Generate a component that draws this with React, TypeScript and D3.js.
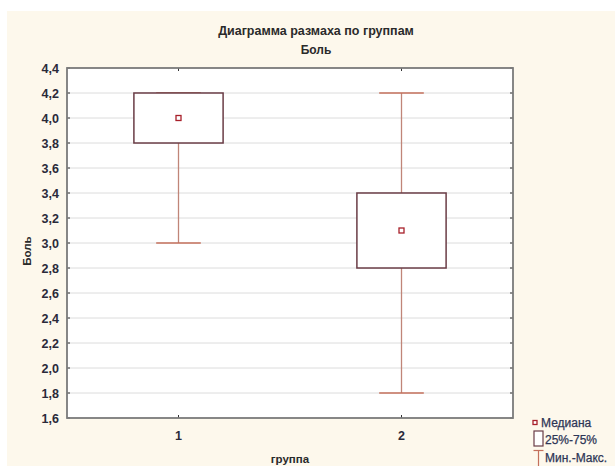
import React from "react";
import * as d3 from "d3";

const groups = ["1", "2"];
const mins = [3.0, 1.8];
const q1s = [3.8, 2.8];
const medians = [4.0, 3.1];
const q3s = [4.2, 3.4];
const maxs = [4.2, 4.2];
const yTicks = [1.6, 1.8, 2.0, 2.2, 2.4, 2.6, 2.8, 3.0, 3.2, 3.4, 3.6, 3.8, 4.0, 4.2, 4.4];
const legendLabels = ["Медиана", "25%-75%", "Мин.-Макс."];

const W = 615, H = 466;
const L = 67, R = 513, T = 68, B = 418;
const font = "'Liberation Sans', Arial, sans-serif";

export default function App() {
  const y = d3.scaleLinear().domain([1.6, 4.4]).range([B, T]);
  const x = d3.scaleBand().domain(groups).range([L, R]);
  const bw = x.bandwidth();
  const fmt = (v: number) => v.toFixed(1).replace(".", ",");
  const boxColor = "#6a3c46";
  const whiskColor = "#c08578";
  const capColor = "#c4705c";
  const medColor = "#a8202a";
  const legColor = "#2e3656";
  return (
    <svg width={W} height={H} style={{ position: "absolute", left: 0, top: 0 }}>
      <rect x={0} y={0} width={W} height={H} fill="#ffffff" />
      <rect x={7} y={11} width={W - 7} height={H - 11} fill="#fdf8ec" />
      <text x={316} y={35} textAnchor="middle" fontFamily={font} fontSize={12.5} fontWeight="bold" fill="#2a2a2a">
        Диаграмма размаха по группам
      </text>
      <text x={316} y={54} textAnchor="middle" fontFamily={font} fontSize={12} fontWeight="bold" fill="#2a2a2a">
        Боль
      </text>
      <rect x={L} y={T} width={R - L} height={B - T} fill="#ffffff" />
      {yTicks.slice(1, -1).map((t) => (
        <line key={"g" + t} x1={L} x2={R} y1={y(t)} y2={y(t)} stroke="#dcdcdc" strokeWidth={1} />
      ))}
      {yTicks.map((t) => (
        <g key={"t" + t}>
          <line x1={L} x2={L + 3} y1={y(t)} y2={y(t)} stroke="#333" strokeWidth={1} />
          <line x1={R - 3} x2={R} y1={y(t)} y2={y(t)} stroke="#333" strokeWidth={1} />
          <text x={59} y={y(t) + 4.5} textAnchor="end" fontFamily={font} fontSize={12.5} fontWeight="bold" fill="#2a2a3a">
            {fmt(t)}
          </text>
        </g>
      ))}
      {groups.map((g) => {
        const cx = (x(g) as number) + bw / 2;
        return (
          <g key={"xt" + g}>
            <line x1={cx} x2={cx} y1={B} y2={B - 3} stroke="#333" strokeWidth={1} />
            <line x1={cx} x2={cx} y1={T} y2={T + 3} stroke="#333" strokeWidth={1} />
            <text x={cx} y={440} textAnchor="middle" fontFamily={font} fontSize={12.5} fontWeight="bold" fill="#2a2a3a">
              {g}
            </text>
          </g>
        );
      })}
      {groups.map((g, i) => {
        const cx = (x(g) as number) + bw / 2;
        const boxW = bw * 0.4;
        const capW = bw * 0.2;
        return (
          <g key={"b" + g}>
            <line x1={cx} x2={cx} y1={y(maxs[i])} y2={y(q3s[i])} stroke={whiskColor} strokeWidth={1.3} />
            <line x1={cx} x2={cx} y1={y(q1s[i])} y2={y(mins[i])} stroke={whiskColor} strokeWidth={1.3} />
            <line x1={cx - capW / 2} x2={cx + capW / 2} y1={y(maxs[i])} y2={y(maxs[i])} stroke={capColor} strokeWidth={1.3} />
            <line x1={cx - capW / 2} x2={cx + capW / 2} y1={y(mins[i])} y2={y(mins[i])} stroke={capColor} strokeWidth={1.3} />
            <rect x={cx - boxW / 2} y={y(q3s[i])} width={boxW} height={y(q1s[i]) - y(q3s[i])} fill="#ffffff" stroke={boxColor} strokeWidth={1.5} />
            <rect x={cx - 2.5} y={y(medians[i]) - 2.5} width={5} height={5} fill="#ffffff" stroke={medColor} strokeWidth={1.3} />
          </g>
        );
      })}
      <rect x={L} y={T} width={R - L} height={B - T} fill="none" stroke="#7a7a7a" strokeWidth={1.8} />
      <text x={290} y={463} textAnchor="middle" fontFamily={font} fontSize={11.5} fontWeight="bold" fill="#2a2a2a">
        группа
      </text>
      <text transform={`translate(31,251) rotate(-90)`} textAnchor="middle" fontFamily={font} fontSize={11.5} fontWeight="bold" fill="#2a2a2a">
        Боль
      </text>
      {/* legend */}
      <rect x={533} y={420.5} width={4} height={4} fill="#ffffff" stroke={medColor} strokeWidth={1.3} />
      <text x={541} y={427} fontFamily={font} fontSize={12} fill={legColor} stroke={legColor} strokeWidth={0.25}>{legendLabels[0]}</text>
      <rect x={534} y={431} width={9} height={15} fill="#ffffff" stroke={boxColor} strokeWidth={1.2} />
      <text x={545} y={444} fontFamily={font} fontSize={12} fill={legColor} stroke={legColor} strokeWidth={0.25}>{legendLabels[1]}</text>
      <line x1={533.5} x2={543.5} y1={450.5} y2={450.5} stroke={capColor} strokeWidth={1.2} />
      <line x1={538.5} x2={538.5} y1={450.5} y2={466} stroke={capColor} strokeWidth={1.2} />
      <text x={545} y={462} fontFamily={font} fontSize={12} fill={legColor} stroke={legColor} strokeWidth={0.25}>{legendLabels[2]}</text>
    </svg>
  );
}
